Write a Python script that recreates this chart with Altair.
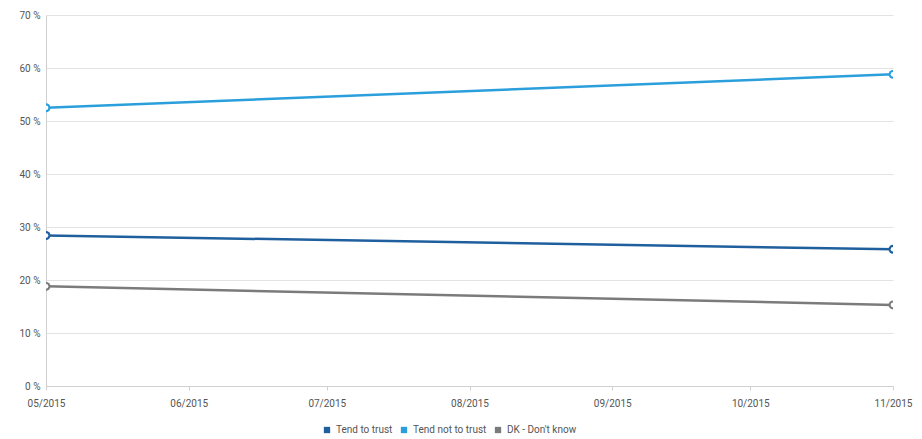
import altair as alt
import pandas as pd

dates = ["2015-05-01", "2015-11-01"]
series = ["Tend to trust", "Tend not to trust", "DK - Don't know"]
trust = [28.4, 25.8]
not_trust = [52.5, 58.8]
dk = [18.8, 15.3]
colors = ["#1f5f9e", "#2b9fdc", "#7b7b7b"]

rows = []
for name, vals in zip(series, [trust, not_trust, dk]):
    for d, v in zip(dates, vals):
        rows.append({"date": d, "series": name, "value": v})
df = pd.DataFrame(rows)

x = alt.X("date:T", title=None,
          scale=alt.Scale(domain=["2015-05-01", "2015-11-01"]),
          axis=alt.Axis(format="%m/%Y", tickCount={"interval": "month", "step": 1},
                        labelColor="#555", labelFontSize=10, labelFont="Roboto",
                        grid=False, domainColor="#d0d0d0", tickColor="#d0d0d0",
                        labelPadding=8, tickSize=4, labelFlush=False))
y = alt.Y("value:Q", title=None,
          scale=alt.Scale(domain=[0, 70]),
          axis=alt.Axis(values=[0, 10, 20, 30, 40, 50, 60, 70], labelExpr="datum.value + ' %'",
                        labelColor="#555", labelFontSize=10, labelFont="Roboto",
                        gridColor="#e3e3e3", domainColor="#d0d0d0", ticks=False,
                        labelPadding=6, labelFlush=False))
color = alt.Color("series:N", sort=series,
                  scale=alt.Scale(domain=series, range=colors),
                  legend=alt.Legend(title=None, orient="none", direction="horizontal",
                                    legendX=276, legendY=410, symbolType="square",
                                    symbolSize=40, labelFontSize=10, labelFont="Roboto",
                                    labelColor="#555", columnPadding=6, symbolOpacity=1,
                                    symbolStrokeWidth=0))

base = alt.Chart(df).encode(x=x, y=y)
lines = base.mark_line(strokeWidth=2.5, clip=True).encode(color=color)
points = base.mark_point(filled=True, size=80, clip=True, opacity=1).encode(color=color)
holes = base.mark_point(filled=True, size=22, clip=True, opacity=1).encode(
    color=alt.value("white"), detail="series:N")

chart = (lines + points + holes).properties(
    width=847, height=371,
    autosize=alt.AutoSizeParams(type="none"),
    padding={"left": 38, "top": 7, "right": 21, "bottom": 52},
).configure_view(stroke=None)

chart.save("out.html", embed_options={"renderer": "svg", "actions": False})
